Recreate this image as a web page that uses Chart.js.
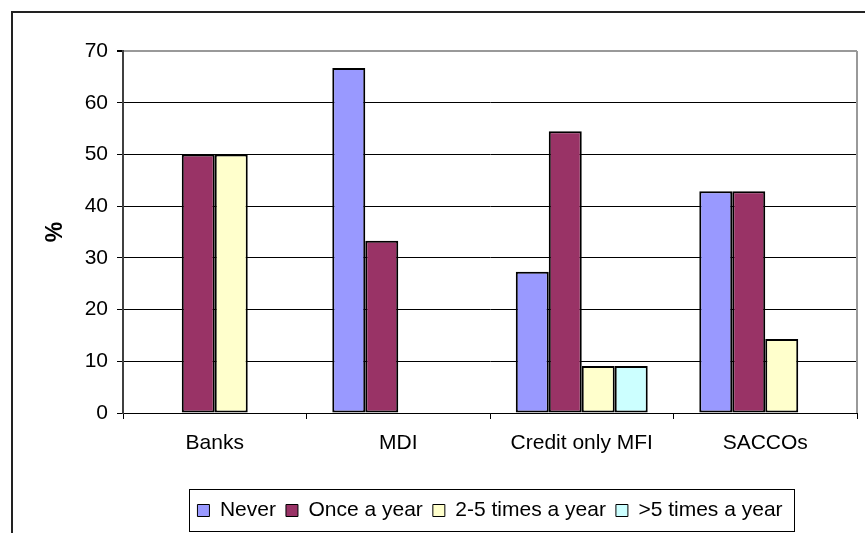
<!DOCTYPE html>
<html>
<head>
<meta charset="utf-8">
<script src="https://cdn.jsdelivr.net/npm/chart.js@4/dist/chart.umd.min.js"></script>
<style>
    html, body { margin: 0; padding: 0; background: #fff; }
    #wrap { width: 865px; height: 533px; }
</style>
</head>
<body>
<div id="wrap"><canvas id="freqChart" width="865" height="533"></canvas></div>
<script>

// ==========================
// Data
// ==========================

const categories = ["Banks", "MDI", "Credit only MFI", "SACCOs"];

const never = [null, 66.7, 27.3, 42.9];
const onceAYear = [50.0, 33.3, 54.5, 42.9];
const twoToFive = [50.0, null, 9.1, 14.3];
const moreThanFive = [null, null, 9.1, null];

const yTicks = [0, 10, 20, 30, 40, 50, 60, 70];

const FONT = "'Liberation Sans', Arial, sans-serif";

// ==========================
// Frame + legend box plugin
// ==========================

const framePlugin = {
    id: "frame",
    beforeDraw(chart) {
        const c = chart.ctx;
        c.save();
        c.fillStyle = "#fff";
        c.fillRect(0, 0, chart.width, chart.height);
        c.strokeStyle = "#222";
        c.lineWidth = 2;
        c.strokeRect(12, 12, chart.width + 20, chart.height + 20);
        c.restore();
    },
    afterDraw(chart) {
        const c = chart.ctx;
        const area = chart.chartArea;
        c.save();
        // plot area right border
        c.strokeStyle = "#999";
        c.lineWidth = 2;
        c.beginPath();
        c.moveTo(area.right, area.top);
        c.lineTo(area.right, area.bottom);
        c.stroke();

        // legend border
        const boxes = chart.legend.legendHitBoxes;
        if (boxes && boxes.length) {
            const first = boxes[0];
            const last = boxes[boxes.length - 1];
            const x0 = Math.round(first.left - 8) + 0.5;
            const x1 = Math.round(last.left + last.width + 11) + 0.5;
            const y0 = Math.round(first.top - 11) + 0.5;
            const y1 = Math.round(first.top + first.height + 10) + 0.5;
            c.strokeStyle = "#000";
            c.lineWidth = 1;
            c.strokeRect(x0, y0, x1 - x0, y1 - y0);
        }
        c.restore();
    }
};

// ==========================
// Chart
// ==========================

function series(label, data, color) {
    return {
        label: label,
        data: data,
        backgroundColor: color,
        borderColor: "#000",
        borderWidth: 2,
        borderSkipped: false,
        categoryPercentage: 0.719,
        barPercentage: 1.0
    };
}

new Chart(document.getElementById("freqChart"), {

    type: "bar",

    data: {
        labels: categories,
        datasets: [
            series("Never", never, "#9999FF"),
            series("Once a year", onceAYear, "#993366"),
            series("2-5 times a year", twoToFive, "#FFFFCC"),
            series(">5 times a year", moreThanFive, "#CCFFFF")
        ]
    },

    options: {
        responsive: false,
        animation: false,
        layout: {
            padding: { top: 51, right: 8, left: 0, bottom: 2 }
        },
        plugins: {
            tooltip: { enabled: false },
            legend: {
                position: "bottom",
                fullSize: false,
                labels: {
                    boxWidth: 12,
                    boxHeight: 12,
                    padding: 10,
                    color: "#000",
                    font: { family: FONT, size: 21 },
                    generateLabels(chart) {
                        const items = Chart.defaults.plugins.legend.labels.generateLabels(chart);
                        items.forEach(it => { it.lineWidth = 1; });
                        return items;
                    }
                }
            }
        },
        scales: {
            x: {
                afterFit(scale) { scale.height = 77; },
                grid: {
                    offset: true,
                    drawOnChartArea: false,
                    tickLength: 6,
                    color: "#000"
                },
                border: { color: "#000", width: 1 },
                ticks: {
                    color: "#000",
                    padding: 12,
                    maxRotation: 0,
                    font: { family: FONT, size: 21 }
                }
            },
            y: {
                min: 0,
                max: 70,
                afterFit(scale) { scale.width = 123; },
                afterBuildTicks(scale) {
                    scale.ticks = yTicks.map(v => ({ value: v }));
                },
                grid: {
                    tickLength: 6,
                    color: ctx => (ctx.tick && ctx.tick.value === 70 ? "#999" : "#000"),
                    lineWidth: ctx => (ctx.tick && ctx.tick.value === 70 ? 2 : 1),
                    tickColor: "#000"
                },
                border: { color: "#404040", width: 2 },
                ticks: {
                    color: "#000",
                    padding: 9,
                    font: { family: FONT, size: 21 }
                },
                title: {
                    display: true,
                    text: "%",
                    color: "#000",
                    padding: { top: 42, bottom: 0 },
                    font: { family: FONT, size: 23, weight: "bold" }
                }
            }
        }
    },

    plugins: [framePlugin]

});

</script>
</body>
</html>
